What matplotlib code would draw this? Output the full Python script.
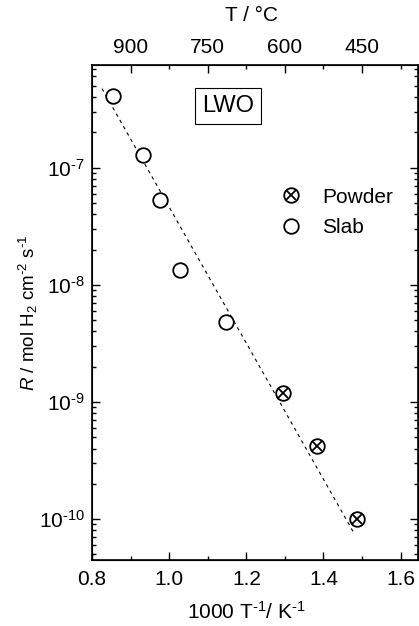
import matplotlib
matplotlib.use("Agg")
import matplotlib.pyplot as plt
from matplotlib.ticker import LogLocator, NullFormatter, FixedLocator, FuncFormatter
from matplotlib.lines import Line2D
import numpy as np

plt.rcParams['font.family'] = ['Liberation Sans', 'DejaVu Sans']
plt.rcParams['mathtext.fontset'] = 'custom'
plt.rcParams['mathtext.rm'] = 'Liberation Sans'
plt.rcParams['mathtext.it'] = 'Liberation Sans:italic'
plt.rcParams['mathtext.default'] = 'regular'

# Data
slab_x = [0.855, 0.932, 0.977, 1.029, 1.148]
slab_y = [4.05e-7, 1.27e-7, 5.3e-8, 1.34e-8, 4.83e-9]
powder_x = [1.296, 1.384, 1.486]
powder_y = [1.19e-9, 4.2e-10, 1.0e-10]
fit_x = [0.826, 1.4805]
fit_y = [4.73e-7, 7.44e-11]
bottom_ticks = [0.8, 1.0, 1.2, 1.4, 1.6]
top_tick_pos = [0.9, 1.1, 1.3, 1.5]
top_tick_labels = ['900', '750', '600', '450']

FS = 15

fig = plt.figure(figsize=(4.19, 6.26), dpi=100)
ax = fig.add_axes([92/419, 66/626, 326/419, 495/626])

ax.plot(fit_x, fit_y, color='black', lw=0.8, ls=(0, (3, 3.5)))
ms = 10.5
mew = 1.3
ax.plot(slab_x, slab_y, ls='none', marker='o', ms=ms, mfc='white', mec='black', mew=mew)
ax.plot(powder_x, powder_y, ls='none', marker='o', ms=ms, mfc='white', mec='black', mew=mew)
ax.plot(powder_x, powder_y, ls='none', marker='x', ms=ms*0.72, mec='black', mew=mew)

ax.set_yscale('log')
ax.set_xlim(0.8, 1.645)
ax.set_ylim(4.47e-11, 7.52e-7)
ax.set_xticks(bottom_ticks)
ax.set_xticklabels(['%.1f' % v for v in bottom_ticks])
ax.xaxis.set_minor_locator(FixedLocator([0.9, 1.1, 1.3, 1.5]))
ax.yaxis.set_major_locator(LogLocator(base=10, numticks=20))
ax.yaxis.set_minor_locator(LogLocator(base=10, subs=range(2, 10), numticks=20))
ax.yaxis.set_minor_formatter(NullFormatter())


def log_fmt(v, pos):
    e = int(np.round(np.log10(v)))
    if e < 0:
        return r'$10^{\text{-}%d}$' % (-e)
    return r'$10^{%d}$' % e


ax.yaxis.set_major_formatter(FuncFormatter(log_fmt))

ax.tick_params(which='both', direction='in', labelsize=FS, width=1.0)
ax.tick_params(axis='x', which='both', top=False)
ax.tick_params(axis='y', which='both', right=True)
ax.tick_params(which='major', length=5.5, pad=7)
ax.tick_params(which='minor', length=3)
ax.tick_params(axis='y', which='major', pad=5)
for s in ax.spines.values():
    s.set_linewidth(1.2)

ax.set_xlabel('1000 T$^{\\text{-}1}$/ K$^{\\text{-}1}$', fontsize=FS, labelpad=9)
ax.xaxis.label.set_x(0.473)
ax.set_ylabel('$\\mathit{R}$ / mol H$_2$ cm$^{\\text{-}2}$ s$^{\\text{-}1}$', fontsize=13.5, labelpad=-1)

ax2 = ax.twiny()
ax2.set_xlim(ax.get_xlim())
ax2.set_xticks(top_tick_pos)
ax2.set_xticklabels(top_tick_labels)
ax2.xaxis.set_minor_locator(FixedLocator([1.0, 1.2, 1.4, 1.6]))
ax2.tick_params(which='both', direction='in', labelsize=FS, width=1.0)
ax2.tick_params(which='major', length=5.5, pad=6)
ax2.tick_params(which='minor', length=3)
ax2.set_xlabel('T / \u00b0C', fontsize=FS, labelpad=12)
ax2.xaxis.label.set_x(0.49)

ax.text(0.417, 0.917, 'LWO', transform=ax.transAxes, fontsize=17,
        ha='center', va='center',
        bbox=dict(boxstyle='square,pad=0.3', fc='white', ec='black', lw=0.8))

h_powder = (Line2D([], [], ls='none', marker='o', ms=ms, mfc='white', mec='black', mew=mew),
            Line2D([], [], ls='none', marker='x', ms=ms*0.72, mec='black', mew=mew))
h_slab = Line2D([], [], ls='none', marker='o', ms=ms, mfc='white', mec='black', mew=mew)
ax.legend([h_powder, h_slab], ['Powder', 'Slab'], loc='upper left',
          bbox_to_anchor=(0.52, 0.79), frameon=False, fontsize=FS,
          handletextpad=1.0, labelspacing=0.55, handlelength=1.0)

fig.savefig('out.png', dpi=100)
